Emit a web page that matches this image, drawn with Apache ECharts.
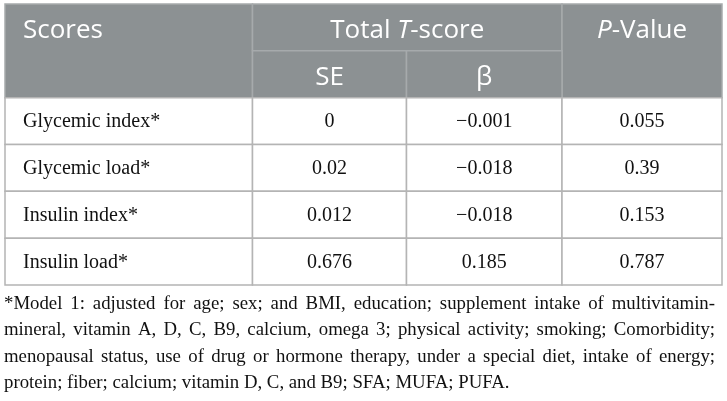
<!DOCTYPE html>
<html>
<head>
<meta charset="utf-8">
<script src="https://cdn.jsdelivr.net/npm/echarts@6/dist/echarts.min.js"></script>
<style>
html,body{margin:0;padding:0;background:#fff;}
#chart{width:727px;height:401px;}
</style>
</head>
<body>
<div id="chart"></div>
<script>
// ---- data ----
const headerTop = ['Scores', 'Total {i|T}-score', '{i|P}-Value'];
const headerSub = ['SE', 'β'];
const rowLabels = ['Glycemic index*', 'Glycemic load*', 'Insulin index*', 'Insulin load*'];
const seValues = ['0', '0.02', '0.012', '0.676'];
const betaValues = ['−0.001', '−0.018', '−0.018', '0.185'];
const pValues = ['0.055', '0.39', '0.153', '0.787'];
const footnoteLines = [
  '*Model 1: adjusted for age; sex; and BMI, education; supplement intake of multivitamin-',
  'mineral, vitamin A, D, C, B9, calcium, omega 3; physical activity; smoking; Comorbidity;',
  'menopausal status, use of drug or hormone therapy, under a special diet, intake of energy;',
  'protein; fiber; calcium; vitamin D, C, and B9; SFA; MUFA; PUFA.'
];

// ---- layout ----
const COL_EDGES = [0, 247.5, 401.5, 557, 717];
const rowKeys = ['h0', 'h1', 'r0', 'r1', 'r2', 'r3'];
const HEADER_BG = '#8c9193';
const HEADER_LINE = '#a6aaac';
const BODY_LINE = '#b4b4b4';
const SANS = '"Open Sans", sans-serif';
const SERIF = '"Liberation Serif", serif';
const HEAD_SIZE = 26;

// cells: [c0, c1, r0, r1, text, kind]
const cells = [];
cells.push([0, 0, 0, 1, headerTop[0], 'hl']);
cells.push([1, 2, 0, 0, headerTop[1], 'hc']);
cells.push([3, 3, 0, 1, headerTop[2], 'hc']);
cells.push([1, 1, 1, 1, headerSub[0], 'hc']);
cells.push([2, 2, 1, 1, headerSub[1], 'hc']);
rowLabels.forEach((lab, i) => {
  const r = i + 2;
  cells.push([0, 0, r, r, lab, 'bl']);
  cells.push([1, 1, r, r, seValues[i], 'bc']);
  cells.push([2, 2, r, r, betaValues[i], 'bc']);
  cells.push([3, 3, r, r, pValues[i], 'bc']);
});

function renderItem(params, api) {
  const d = cells[params.dataIndex];
  const [c0, c1, r0, r1, text, kind] = d;
  const bandH = api.size([0, 1])[1];
  const xL = api.coord([COL_EDGES[c0], r0])[0];
  const xR = api.coord([COL_EDGES[c1 + 1], r0])[0];
  const yTopC = api.coord([0, r0])[1];
  const yBotC = api.coord([0, r1])[1];
  const y0 = yTopC - bandH / 2;
  const y1 = yBotC + bandH / 2;
  const isHeader = kind[0] === 'h';
  const left = kind[1] === 'l';
  return {
    type: 'group',
    children: [
      {
        type: 'rect',
        shape: { x: xL, y: y0, width: xR - xL, height: y1 - y0 },
        style: {
          fill: isHeader ? HEADER_BG : '#ffffff',
          stroke: isHeader ? HEADER_LINE : BODY_LINE,
          lineWidth: 1.5
        }
      },
      {
        type: 'text',
        style: {
          text: text,
          x: left ? xL + 18 : (xL + xR) / 2,
          y: yTopC + (isHeader ? 3.5 : 1),
          align: left ? 'left' : 'center',
          verticalAlign: 'middle',
          fill: isHeader ? '#ffffff' : '#111111',
          fontFamily: isHeader ? SANS : SERIF,
          fontSize: isHeader ? HEAD_SIZE : 20,
          rich: {
            i: { fontStyle: 'italic', fontFamily: SANS, fontSize: HEAD_SIZE, fill: '#ffffff' }
          }
        }
      }
    ]
  };
}

// footnote, justified using measured word widths
const FN_FONT_SIZE = 18.8;
const FN_FONT = FN_FONT_SIZE + 'px "Liberation Serif"';
const FN_LEFT = 4, FN_RIGHT = 715;
const FN_BASE_Y = 304, FN_LINE_H = 26.5;
const measureCtx = document.createElement('canvas').getContext('2d');
measureCtx.font = FN_FONT;
const footGraphics = [];
footnoteLines.forEach((line, li) => {
  const words = line.split(' ');
  const widths = words.map(w => measureCtx.measureText(w).width);
  const total = widths.reduce((a, b) => a + b, 0);
  const last = li === footnoteLines.length - 1;
  const gap = last ? measureCtx.measureText(' ').width : (FN_RIGHT - FN_LEFT - total) / (words.length - 1);
  let x = FN_LEFT;
  words.forEach((w, wi) => {
    footGraphics.push({
      type: 'text',
      x: x,
      y: FN_BASE_Y + li * FN_LINE_H,
      style: {
        text: w,
        font: FN_FONT,
        fill: '#111111',
        verticalAlign: 'middle',
        align: 'left'
      }
    });
    x += widths[wi] + gap;
  });
});

const chart = echarts.init(document.getElementById('chart'), null, { renderer: 'canvas' });
chart.setOption({
  animation: false,
  backgroundColor: '#ffffff',
  grid: { left: 5, top: 4, width: 717, height: 281 },
  xAxis: { type: 'value', min: 0, max: 717, show: false },
  yAxis: { type: 'category', data: rowKeys, inverse: true, show: false },
  series: [{
    type: 'custom',
    renderItem: renderItem,
    clip: false,
    encode: { x: 0, y: 2 },
    data: cells.map(c => [COL_EDGES[c[0]], c[1], c[2], c[3]])
  }],
  graphic: footGraphics
});
</script>
</body>
</html>
